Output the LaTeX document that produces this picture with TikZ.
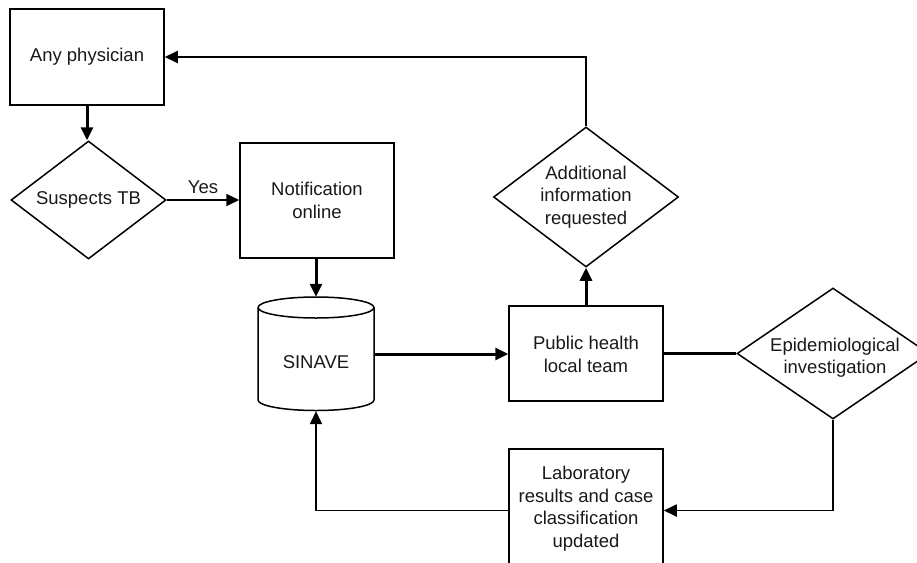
\documentclass[tikz,border=0pt]{standalone}
\usepackage{fontspec}
\setmainfont{Liberation Sans}
\usetikzlibrary{shapes.geometric,arrows.meta}
\begin{document}
\begin{tikzpicture}[x=1pt,y=-1pt,
  every node/.style={font=\fontsize{18.5}{22.5}\selectfont, text=black!90, align=center, inner sep=0pt},
  box/.style={draw, line width=1.5pt, rectangle},
  dia/.style={draw, line width=1.5pt, diamond},
  thin/.style={line width=1.8pt, -{Triangle[length=13pt,width=12pt]}},
  thick/.style={line width=3pt, -{Triangle[length=13pt,width=12pt]}},
  thickline/.style={line width=3pt},
  thinline/.style={line width=1.8pt}]
\useasboundingbox (0,0) rectangle (917,562);
\clip (0,0) rectangle (917,562);

% boxes
\node[box, minimum width=154pt, minimum height=96pt] (phys) at (87,57) {};
\node (physT) at (phys) {Any physician};

\node[dia, minimum width=155pt, minimum height=118pt] (sus) at (88.5,200) {};
\node (susT) at (sus) {Suspects TB};

\node[box, minimum width=154pt, minimum height=115pt] (notif) at (317,200.5) {};
\node (notifT) at (notif) {Notification\\online};

% cylinder SINAVE
\node[minimum width=116pt, minimum height=114pt] (sinave) at (316,354) {};
\draw[line width=1.5pt] (258,307.5) arc[start angle=180, end angle=540, x radius=58, y radius=10.5];
\draw[line width=1.5pt] (258,307.5) -- (258,400) arc[start angle=180, end angle=360, x radius=58, y radius=-10.5] -- (374,307.5);
\node (sinaveT) at (316,362) {SINAVE};

\node[box, minimum width=154pt, minimum height=95pt] (pub) at (586,353.5) {};
\node (pubT) at (586,354.5) {Public health\\local team};

\node[dia, minimum width=185pt, minimum height=140pt] (add) at (586,197) {};
\node (addT) at (586,197) {Additional\\information\\requested};

\node[dia, minimum width=192pt, minimum height=131pt] (epi) at (833,353.5) {};
\node (epiT) at (835,357.5) {Epidemiological\\investigation};

\node[box, minimum width=154pt, minimum height=119pt] (lab) at (586,508.5) {};
\node (labT) at (586,508.5) {Laboratory\\results and case\\classification\\updated};

% connectors
\draw[thick] (phys.south) -- (phys.south |- sus.north);
\draw[thin] (sus.east) -- node[above=5pt] (yes) {Yes} (sus.east -| notif.west);
\draw[thick] (notif.south -| sinave.north) -- (sinave.north);
\draw[thick] (sinave.east) -- (sinave.east -| pub.west);
\draw[thick] (pub.north) -- (add.south);
\draw[thin] (add.north) |- (phys.east);
\draw[thickline] (pub.east) -- (epi.west);
\draw[thin] (epi.south) |- ([yshift=-2pt]lab.east);
\draw[thin] ([yshift=-2pt]lab.west) -| (sinave.south);
\end{tikzpicture}
\end{document}
